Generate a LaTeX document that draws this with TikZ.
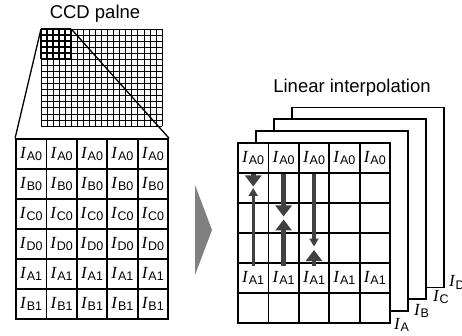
\documentclass[tikz,border=0pt]{standalone}
\usepackage{fontspec}
\setmainfont{Liberation Serif}
\setsansfont{Liberation Sans}
\usepackage{tikz}
\usetikzlibrary{arrows.meta}

\newcommand{\Ival}[1]{\fontsize{17}{17}\selectfont\textit{I}\kern0.3pt\raisebox{-2.2pt}{\fontsize{12.5}{12.5}\selectfont\sffamily #1}}

\begin{document}
\begin{tikzpicture}[x=1pt,y=-1pt]
    \tikzstyle{cell}=[draw,line width=1.8pt,minimum width=30.4pt,minimum height=30pt,inner sep=0pt]
    \tikzstyle{plane}=[draw,line width=1.8pt,fill=white,minimum width=152pt,minimum height=180pt,inner sep=0pt]
    \tikzstyle{fine}=[line width=0.7pt]
    \tikzstyle{bold}=[line width=1.8pt]
    \tikzstyle{proj}=[draw,line width=1.3pt]
    \tikzstyle{heavy}=[draw=black!75,line width=4.8pt,-{Triangle[width=16pt,length=11pt]}]
    \tikzstyle{light}=[draw=black!75,line width=3.2pt,-{Triangle[width=9pt,length=8pt]}]
    \tikzstyle{title}=[font=\fontsize{18.5}{20}\selectfont\sffamily]
    \tikzstyle{tag}=[anchor=west,inner sep=1pt]

    \useasboundingbox (0,0) rectangle (462,336);

    % CCD plane
    \node[title] (ccd) at (95,14) {CCD palne};
    \foreach \i in {0,...,20}
        \draw[fine] (41+6.05*\i,29) -- (41+6.05*\i,126);
    \foreach \j in {0,...,16}
        \draw[fine] (41,29+6.0625*\j) -- (162,29+6.0625*\j);
    \foreach \i in {0,...,5} {
        \draw[bold] (41+6.05*\i,29) -- (41+6.05*\i,59.3);
        \draw[bold] (41,29+6.0625*\i) -- (71.25,29+6.0625*\i);
    }
    \coordinate (blk-nw) at (41,29);
    \coordinate (blk-ne) at (71.25,29);

    % enlarged block
    \foreach \r/\s in {1/A0,2/B0,3/C0,4/D0,5/A1,6/B1}
        \foreach \c in {1,...,5}
            \node[cell] (L-\r-\c) at (31.2+30.4*\c-30.4,124+30*\r) {\Ival{\s}};
    \path[proj] (blk-nw) -- (L-1-1.north west);
    \path[proj] (blk-ne) -- (L-1-5.north east);

    \fill[black!50] (195,185) -- (212,230) -- (195,275) -- cycle;

    % interpolated planes
    \node[title] (lin) at (352,88) {Linear interpolation};
    \node[plane] (pD) at (368,197.5) {};
    \node[plane] (pC) at (350,209.3) {};
    \node[plane] (pB) at (332,221.2) {};
    \foreach \r/\t in {1/{\Ival{A0}},2/{},3/{},4/{},5/{\Ival{A1}},6/{}}
        \foreach \c in {1,...,5}
            \node[cell,fill=white] (R-\r-\c) at (253.2+30.4*\c-30.4,128+30*\r) {\t};

    \node[tag] (tA) at ([shift={(2,1)}]R-6-5.south east) {\Ival{A}};
    \node[tag] (tB) at ([shift={(4,-1)}]pB.south east) {\Ival{B}};
    \node[tag] (tC) at ([shift={(5,-3)}]pC.south east) {\Ival{C}};
    \node[tag] (tD) at ([shift={(3,-6)}]pD.south east) {\Ival{D}};

    \path[heavy,shorten >=1.5pt] (R-1-1.south) -- (R-2-1.center);
    \path[light,shorten <=-4pt,shorten >=0pt] (R-5-1.north) -- (R-2-1.center);
    \path[heavy,shorten >=1.5pt] (R-1-2.south) -- (R-3-2.center);
    \path[heavy,shorten <=-4pt,shorten >=1.5pt] (R-5-2.north) -- (R-3-2.center);
    \path[light,shorten >=1.5pt] (R-1-3.south) -- (R-4-3.center);
    \path[heavy,shorten <=-4pt,shorten >=2pt] (R-5-3.north) -- (R-4-3.center);
\end{tikzpicture}
\end{document}
